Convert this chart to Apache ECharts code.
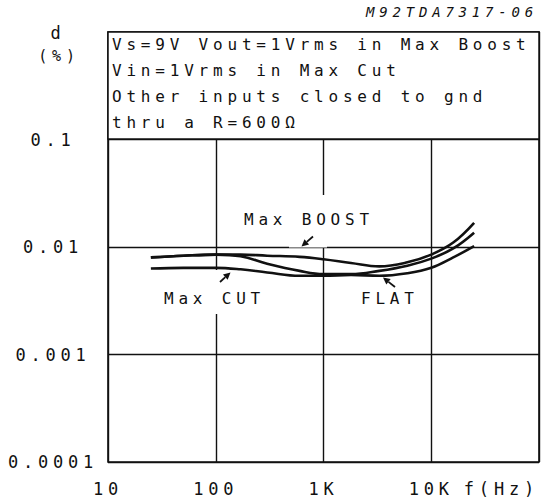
<!DOCTYPE html>
<html>
<head>
<meta charset="utf-8">
<script src="https://cdn.jsdelivr.net/npm/echarts@6/dist/echarts.min.js"></script>
<style>
  html, body { margin: 0; padding: 0; background: #fff; }
  #chart { width: 544px; height: 499px; }
  #chart text { letter-spacing: 4.8px; }
</style>
</head>
<body>
<div id="chart"></div>
<script>
// frequency points (Hz) shared by the three curves
const freqs = [25, 50, 100, 170, 300, 600, 1000, 1800, 3300, 6000, 10000, 16000, 25000];
// distortion d (%)
const maxBoost = [0.0080, 0.0083, 0.0085, 0.0085, 0.0083, 0.0081, 0.0077, 0.0071, 0.0066, 0.0072, 0.0085, 0.0110, 0.0168];
const flat = [0.0080, 0.0083, 0.0085, 0.0082, 0.0070, 0.0060, 0.0056, 0.0056, 0.0060, 0.0067, 0.0078, 0.0097, 0.0136];
const maxCut = [0.0063, 0.0064, 0.0064, 0.0062, 0.0058, 0.0054, 0.0054, 0.0055, 0.0054, 0.0057, 0.0064, 0.0080, 0.0102];

// tick labels, indexed by decade exponent
const xTickLabels = ["10", "100", "1K", "10K", "f(Hz)"]; // 10^1 .. 10^5
const yTickLabels = ["0.0001", "0.001", "0.01", "0.1", ""]; // 10^-4 .. 10^0

const noteLines = [
  "Vs=9V Vout=1Vrms in Max Boost",
  "Vin=1Vrms in Max Cut",
  "Other inputs closed to gnd",
  "thru a R=600Ω"
];

const font = "DejaVu Sans Mono";
const ink = "#111";

function pairs(ys) {
  return freqs.map((f, i) => [f, ys[i]]);
}

function curve(name, ys) {
  return {
    name: name,
    type: "line",
    data: pairs(ys),
    smooth: 0.4,
    showSymbol: false,
    z: 2,
    lineStyle: { color: ink, width: 2.6 }
  };
}

function label(text, x, y, size) {
  return {
    type: "text",
    z: 4,
    x: x,
    y: y,
    style: {
      text: text,
      font: (size || 16) + "px " + font,
      fill: ink,
      verticalAlign: "middle"
    }
  };
}

function whiteBox(x, y, w, h) {
  return {
    type: "rect",
    z: 1,
    shape: { x: x, y: y, width: w, height: h },
    style: { fill: "#fff" }
  };
}

// arrow from tail (x1,y1) to head (x2,y2)
function arrow(x1, y1, x2, y2) {
  const a = Math.atan2(y2 - y1, x2 - x1);
  const len = 7, half = 3.5;
  const bx = x2 - len * Math.cos(a), by = y2 - len * Math.sin(a);
  return [
    {
      type: "line",
      z: 4,
      shape: { x1: x1, y1: y1, x2: bx, y2: by },
      style: { stroke: ink, lineWidth: 1.8 }
    },
    {
      type: "polygon",
      z: 4,
      shape: {
        points: [
          [x2, y2],
          [bx - half * Math.sin(a), by + half * Math.cos(a)],
          [bx + half * Math.sin(a), by - half * Math.cos(a)]
        ]
      },
      style: { fill: ink }
    }
  ];
}

const chart = echarts.init(document.getElementById("chart"), null, { renderer: "svg" });

const graphics = [
  // boxes hiding the grid behind the curve labels
  whiteBox(238, 195, 146, 37),
  whiteBox(289, 231, 38, 16.5),
  whiteBox(158, 270, 114, 44),
  // condition box over the top decade
  {
    type: "rect",
    z: 5,
    shape: { x: 108, y: 32, width: 431, height: 107 },
    style: { fill: "#fff", stroke: ink, lineWidth: 1.5 }
  },
  {
    type: "text",
    z: 6,
    x: 538,
    y: 12,
    style: {
      text: "M92TDA7317-06",
      font: "italic 14px " + font,
      fill: ink,
      align: "right",
      verticalAlign: "middle"
    }
  },
  {
    type: "text",
    z: 6,
    x: 58,
    y: 33,
    style: { text: "d", font: "17px " + font, fill: ink, align: "center", verticalAlign: "middle" }
  },
  {
    type: "text",
    z: 6,
    x: 59,
    y: 56,
    style: { text: "(%)", font: "15px " + font, fill: ink, align: "center", verticalAlign: "middle" }
  },
  label("Max BOOST", 244, 219),
  label("Max CUT", 164, 298),
  label("FLAT", 361, 298)
];

noteLines.forEach((t, i) => {
  const g = label(t, 112, 44 + i * 26);
  g.z = 6;
  graphics.push(g);
});

graphics.push(...arrow(313, 236.5, 301.5, 246.5));
graphics.push(...arrow(220, 282, 230.5, 272.5));
graphics.push(...arrow(395, 287, 383, 277.5));

chart.setOption({
  animation: false,
  backgroundColor: "#fff",
  grid: {
    show: true,
    left: 108,
    right: 5,
    top: 32,
    bottom: 37,
    borderColor: ink,
    borderWidth: 1.6,
    backgroundColor: "transparent"
  },
  xAxis: {
    type: "log",
    logBase: 10,
    min: 10,
    max: 100000,
    interval: 1,
    axisLine: { show: false },
    axisTick: { show: false },
    minorTick: { show: false },
    splitLine: { show: true, lineStyle: { color: ink, width: 1.4 } },
    axisLabel: {
      margin: 18,
      color: ink,
      fontFamily: font,
      fontSize: 17,
      showMinLabel: true,
      showMaxLabel: true,
      alignMaxLabel: "right",
      formatter: v => xTickLabels[Math.round(Math.log10(v)) - 1] || ""
    }
  },
  yAxis: {
    type: "log",
    logBase: 10,
    min: 0.0001,
    max: 1,
    interval: 1,
    axisLine: { show: false },
    axisTick: { show: false },
    minorTick: { show: false },
    splitLine: { show: true, lineStyle: { color: ink, width: 1.4 } },
    axisLabel: {
      margin: 55,
      align: "center",
      color: ink,
      fontFamily: font,
      fontSize: 17,
      formatter: v => yTickLabels[Math.round(Math.log10(v)) + 4] || ""
    }
  },
  series: [
    curve("Max BOOST", maxBoost),
    curve("FLAT", flat),
    curve("Max CUT", maxCut)
  ],
  graphic: { elements: graphics }
});
</script>
</body>
</html>
